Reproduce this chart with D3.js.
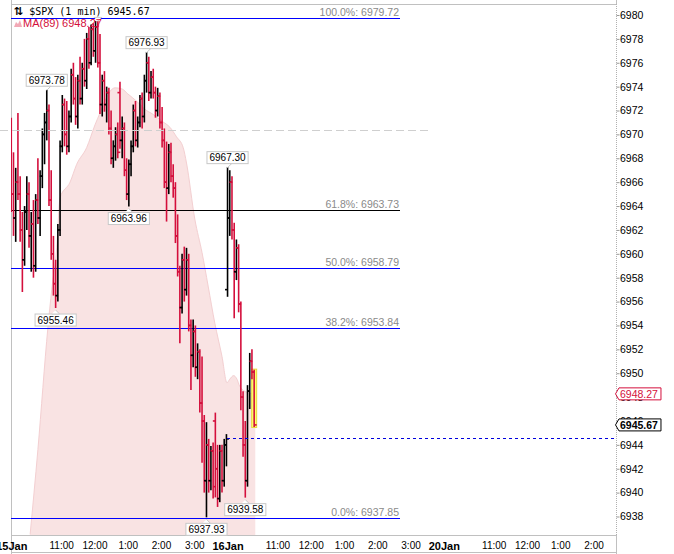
<!DOCTYPE html>
<html><head><meta charset="utf-8">
<script src="https://cdn.jsdelivr.net/npm/d3@7"></script>
<style>
body{margin:0;background:#fff}
svg{display:block;font-family:"Liberation Sans",Arial,sans-serif}
</style>
</head><body>
<svg id="c" width="674" height="554"></svg>
<script>
// ---------------- DATA ----------------
const symbol = "$SPX";
const intervalLabel = "1 min";
const lastPrice = 6945.67;
const maPeriod = 89;
const maLast = 6948.27;
const barMinutes = 4;          // each drawn bar summarises 4 one-minute bars
const sessionMinutes = 390;

// [open, high, low, close]  — 15 Jan
const day1Bars = [
[6970,6971.4,6963.5,6965],[6965,6968.5,6961.5,6963],[6963,6967.2,6961,6966],[6966,6971.8,6964.5,6965],
[6965,6966.5,6961,6962],[6962,6963.5,6956.8,6959.5],[6959.5,6964,6959,6963.5],[6963.5,6966.5,6962,6965],
[6965,6966,6960.5,6961.5],[6961.5,6963.5,6958.5,6962.5],[6962.5,6964.5,6958,6959],[6959,6965,6958.5,6964.5],
[6964.5,6968,6962.5,6963],[6963,6967,6961.5,6966.5],[6966.5,6970.5,6965.5,6970],[6970,6971.8,6967.5,6971],
[6971,6973.78,6969.5,6972],[6972,6972.5,6964,6964.5],[6964.5,6967,6959.5,6960],[6960,6961.5,6956.5,6957.5],
[6957.5,6959.5,6955.46,6956.5],[6956.5,6962.5,6956,6962],[6962,6969.5,6961.5,6969],[6969,6973.3,6968.5,6972.5],
[6972.5,6973,6969,6970],[6970,6972.8,6968.3,6969],[6969,6972,6968.5,6971.5],[6971.5,6975.5,6971,6975],
[6975,6976,6972.5,6973],[6973,6974.8,6970.8,6971.5],[6971.5,6975,6970.5,6974.5],[6974.5,6976.5,6972.5,6973],
[6973,6976,6972.5,6975.5],[6975.5,6978,6974,6974.5],[6974.5,6978.5,6973.8,6978],[6978,6979,6975.5,6976],
[6976,6979.2,6975.8,6978.8],[6978.8,6979.3,6976.5,6977],[6977,6979.5,6976,6979],[6979,6979.72,6975.6,6976],
[6976,6978.4,6971.7,6972.5],[6972.5,6975,6971.5,6974.5],[6974.5,6975.3,6971.9,6972.5],[6972.5,6974,6971,6973.5],
[6973.5,6973.9,6970,6970.5],[6970.5,6972,6967.5,6968],[6968,6969.5,6967.2,6969],[6969,6970.6,6967.8,6970],
[6970,6971,6968,6968.5],[6973.5,6974.4,6968.8,6969.5],[6969.5,6971.5,6968,6970.5],[6970.5,6971,6966.5,6967],
[6967,6968,6964.5,6965],[6965,6967.9,6963.96,6967.5],[6967.5,6969.5,6966.5,6969],[6969,6972.5,6968.5,6972],
[6972,6972.8,6969,6969.5],[6969.5,6971.5,6968.9,6971],[6971,6973.3,6970.6,6973],[6973,6973.5,6970.5,6971.5],
[6971.5,6975,6971,6974.5],[6974.5,6976.93,6973.5,6976],[6976,6976.5,6972.8,6973.5],[6973.5,6975.3,6973,6974.8],
[6974.8,6975.5,6973,6973.5],[6973.5,6974,6971.4,6972],[6972,6973.9,6971.5,6973.2],[6973.2,6973.5,6970.5,6971],
[6971,6972.3,6968.9,6969.5],[6969.5,6970.5,6965.5,6966],[6966,6969.4,6962.7,6965.5],[6965.5,6969.2,6965,6968.5],
[6968.5,6969.3,6966,6966.5],[6966.5,6967.5,6964.7,6965.5],[6965.5,6966,6960.9,6961.5],[6961.5,6963.3,6958.1,6958.5],
[6958.5,6959,6952.5,6955.5],[6955.5,6960,6955,6959.5],[6959.5,6960.6,6956,6957],[6957,6960.5,6956.5,6959.5],
[6959.5,6960,6953.5,6954],[6954,6954.5,6948.6,6951.5],[6951.5,6954.5,6950.5,6953.5],[6953.5,6954,6949.7,6950.5],
[6950.5,6952.5,6949.5,6951.8],[6951.8,6952,6946.7,6947.5],[6947.5,6951.4,6942.5,6946],[6946,6946.5,6940,6941],
[6941,6945.9,6937.93,6944],[6944,6944.5,6940,6941],[6941,6943.9,6940.2,6943.5],[6943.5,6944.2,6939.5,6940.5],
[6946,6946.7,6939.6,6942],[6942,6944,6938.8,6939.5],[6939.5,6944,6939.2,6943.5],[6943.5,6944,6940,6941],
[6941,6944.5,6940.5,6944],[6944,6944.9,6942.2,6944.5]
];
// 16 Jan
const day2Bars = [
[6957,6967.3,6956.4,6963],[6963,6967,6961.5,6966],[6966,6966.5,6961.2,6962],[6962,6962.6,6954.6,6958.5],
[6958.5,6961.2,6957.8,6960.5],[6960.5,6960.8,6955.1,6955.8],[6955.8,6956,6946.9,6948],[6948,6948.5,6943,6944],
[6944,6946,6939.58,6941],[6941,6949,6940.5,6948.5],[6948.5,6951.7,6947,6951],[6951,6952,6949.5,6950.1],
[6950.1,6950.3,6945.5,6945.67]
];
// MA(89): [session minute, value]
const maPoints = [
[34,6936.5],[48,6943.6],[66,6953.8],[73,6957.0],[82,6960.5],[88,6964.7],[106,6966.0],[118,6967.5],
[136,6968.9],[151,6970.8],[160,6971.8],[169,6972.8],[178,6973.6],[187,6973.9],[200,6973.8],[210,6973.4],
[228,6972.7],[241,6972.1],[255,6971.7],[272,6971.1],[286,6970.6],[298,6969.8],[310,6968.9],[316,6967.6],
[331,6962.9],[344,6960.1],[355,6957.3],[367,6954.2],[380,6951.4],[389,6949.2],[394,6949.5],[401,6949.8],
[407,6949.5],[412,6948.9],[425,6948.4],[440,6948.27]
];
const fibLabels = ["100.0%","61.8%","50.0%","38.2%","0.0%"];
const fibValues = [6979.72,6963.73,6958.79,6953.84,6937.85];
const refLevel = 6970.34;      // grey dashed reference
const prevClose = 6944.52;     // blue dashed
// extremes: [day, bar index, "high"/"low"]
const extremes = [[1,39,"high"],[1,16,"high"],[1,61,"high"],[1,53,"low"],[1,20,"low"],[1,88,"low"],[2,0,"high"],[2,8,"low"]];
const yTickValues = [6938,6940,6942,6944,6946,6948,6950,6952,6954,6956,6958,6960,6962,6964,6966,6968,6970,6972,6974,6976,6978,6980];
const timeTickMinutes = [0,90,150,210,270,330,390,480,540,600,660,720,780,870,930,990,1050];
const timeTickLabels = ["15Jan","11:00","12:00","1:00","2:00","3:00","16Jan","11:00","12:00","1:00","2:00","3:00","20Jan","11:00","12:00","1:00","2:00"];

// ---------------- CHART ----------------
const RED = "#d40f3c";
const BLUE = "#0000ff";
const SANS = "'Liberation Sans',Arial,sans-serif";
const svg = d3.select("#c");
const P = {left:11, right:616, top:4, bottom:535};
const x = d3.scaleLinear().domain([-0.5, 1090.5]).range([P.left, P.right]);
const y = d3.scaleLinear().domain([6938, 6980]).range([516.5, 15.0]);
const evenRow = v => 2*Math.round(y(v)/2) + 0.5;   // pixel row for 1px horizontal lines

svg.append("defs").append("clipPath").attr("id","clip")
  .append("rect").attr("x",P.left).attr("y",P.top).attr("width",P.right-P.left).attr("height",P.bottom-P.top);

const bars = [];
day1Bars.forEach((b,i)=>bars.push({m:i*barMinutes, o:b[0], h:b[1], l:b[2], c:b[3], day:1, i}));
day2Bars.forEach((b,i)=>bars.push({m:sessionMinutes+i*barMinutes, o:b[0], h:b[1], l:b[2], c:b[3], day:2, i}));

// frame
const frame = svg.append("g").attr("fill","none").attr("stroke","#c0c0c0").attr("shape-rendering","crispEdges");
frame.append("line").attr("x1",P.left+0.5).attr("x2",P.left+0.5).attr("y1",0).attr("y2",554);
frame.append("line").attr("x1",P.left).attr("x2",P.right).attr("y1",P.top+0.5).attr("y2",P.top+0.5);
frame.append("line").attr("x1",P.right+0.5).attr("x2",P.right+0.5).attr("y1",0).attr("y2",P.top);
frame.append("line").attr("x1",P.left).attr("x2",P.right+0.5).attr("y1",P.bottom+0.5).attr("y2",P.bottom+0.5);
frame.append("line").attr("x1",P.left).attr("x2",P.right+0.5).attr("y1",552.5).attr("y2",552.5);
frame.append("line").attr("x1",P.right+0.5).attr("x2",P.right+0.5).attr("y1",P.bottom).attr("y2",554);

const g = svg.append("g").attr("clip-path","url(#clip)");

// MA area
const area = d3.area().x(d=>x(d[0])).y0(P.bottom).y1(d=>y(d[1])).curve(d3.curveMonotoneX);
g.append("path").datum(maPoints).attr("d",area).attr("fill","#f9e3e3");
g.append("path").datum(maPoints).attr("d",d3.line().x(d=>x(d[0])).y(d=>y(d[1])).curve(d3.curveMonotoneX))
  .attr("fill","none").attr("stroke","#f3cfd1").attr("stroke-width",1);

// grey dashed ref line (extends left of frame)
svg.append("line").attr("x1",0).attr("x2",430).attr("y1",evenRow(refLevel)).attr("y2",evenRow(refLevel))
  .attr("stroke","#cfcfcf").attr("stroke-dasharray","8,4").attr("shape-rendering","crispEdges");

// fib lines
fibValues.forEach((v,i)=>{
  const yy = evenRow(v);
  g.append("line").attr("x1",P.left).attr("x2",400).attr("y1",yy).attr("y2",yy)
    .attr("stroke", fibLabels[i]==="61.8%" ? "#000000" : BLUE).attr("stroke-width",1)
    .attr("shape-rendering","crispEdges");
  svg.append("text").attr("x",399).attr("y",yy-3).attr("text-anchor","end")
    .attr("font-size","10.5px").attr("fill","#8a8a8a").text(fibLabels[i]+": "+v.toFixed(2));
});

// prev close dashed
const lastDay1 = bars.filter(b=>b.day===1).slice(-1)[0];
svg.append("line").attr("x1",x(lastDay1.m)+1).attr("x2",P.right).attr("y1",evenRow(prevClose)).attr("y2",evenRow(prevClose))
  .attr("stroke","#0000dd").attr("stroke-dasharray","3,3").attr("shape-rendering","crispEdges");

// highlight last bar
const lastBar = bars[bars.length-1];
g.append("rect").attr("x",x(lastBar.m)-2.5).attr("width",5)
  .attr("y",y(lastBar.h)-0.5).attr("height",y(lastBar.l)-y(lastBar.h)+1)
  .attr("fill","#ffff70").attr("stroke","#e8d840").attr("stroke-width",1);

// OHLC bars
const bg = g.append("g").attr("stroke-width",1.6);
bars.forEach(b=>{
  const col = b.c >= b.o ? "#000" : RED;
  const xx = x(b.m);
  bg.append("line").attr("x1",xx).attr("x2",xx).attr("y1",y(b.h)).attr("y2",y(b.l)).attr("stroke",col);
  bg.append("line").attr("x1",xx-2.5).attr("x2",xx).attr("y1",y(b.o)).attr("y2",y(b.o)).attr("stroke",col);
  bg.append("line").attr("x1",xx).attr("x2",xx+2.5).attr("y1",y(b.c)).attr("y2",y(b.c)).attr("stroke",col);
});

// high / low labels
const lg = svg.append("g");
extremes.forEach(([day,idx,type])=>{
  const b = bars.find(d=>d.day===day && d.i===idx);
  const v = type==="high" ? b.h : b.l;
  const bx = x(b.m), by = y(v);
  let top, tri, hgt = 12;
  if(type==="high"){
    const tip = by+1; const base = tip-4; top = base-hgt;
    tri = [[bx-4,base],[bx+4,base],[bx,tip]];
  } else {
    const tip = by+2; const base = tip+4; top = base;
    tri = [[bx-4,base],[bx+4,base],[bx,tip]];
  }
  if(type==="high" && top < P.top + 4){
    // box hidden under the title strip: only its pointer shows
    lg.append("path").attr("d",d3.line()([[bx-4,by-1],[bx+4,by-1],[bx,by+3]])).attr("fill","#fff").attr("stroke","#c8c8c8");
    return;
  }
  const t = lg.append("text").attr("font-size","10px").attr("fill","#000").attr("text-anchor","middle").text(v.toFixed(2));
  const w = t.node().getComputedTextLength()+5;
  lg.insert("rect","text").attr("x",bx-w/2).attr("y",top).attr("width",w).attr("height",hgt)
    .attr("fill","#fff").attr("stroke","#c8c8c8");
  lg.insert("path","text").attr("d",d3.line()(tri)).attr("fill","#fff").attr("stroke","#c8c8c8");
  t.attr("x",bx).attr("y",top+9.5);
});

// right axis
const ax = svg.append("g").attr("transform",`translate(${P.right+0.5},0)`)
  .call(d3.axisRight(y).tickValues(yTickValues).tickSize(3).tickFormat(d3.format("d")));
ax.select(".domain").remove();
ax.selectAll(".tick line").attr("stroke","#999");
ax.selectAll("text").attr("font-size","10.5px").style("font-family",SANS).attr("x",3.5).attr("fill","#000");
svg.append("line").attr("x1",P.right+0.5).attr("x2",P.right+0.5).attr("y1",P.top).attr("y2",P.bottom)
  .attr("stroke","#b0b0b0").attr("stroke-dasharray","1,1");

// price markers on axis
function marker(v, txt, col, bold){
  const yy = y(v);
  const mg = svg.append("g");
  const t = mg.append("text").attr("x",P.right+4).attr("y",yy+3.8).attr("font-size","10.5px")
    .attr("font-weight",bold?"bold":"normal").attr("fill",col).text(txt);
  const w = t.node().getComputedTextLength()+4;
  mg.insert("path","text").attr("d",`M${P.right-0.5},${yy} L${P.right+3},${yy-6} L${P.right+3+w},${yy-6} L${P.right+3+w},${yy+6} L${P.right+3},${yy+6} Z`)
    .attr("fill","#fff").attr("stroke",col);
}
marker(maLast, maLast.toFixed(2), RED, false);
marker(lastPrice, lastPrice.toFixed(2), "#000", true);

// x axis labels
const xa = svg.append("g").attr("transform",`translate(0,${P.bottom})`)
  .call(d3.axisBottom(x).tickValues(timeTickMinutes).tickSize(0).tickFormat((d,i)=>timeTickLabels[i]));
xa.select(".domain").remove();
xa.selectAll("text").attr("y",7).style("font-family",SANS).attr("fill","#000")
  .attr("font-size",(d,i)=>timeTickLabels[i].includes("Jan")?"11px":"10px")
  .attr("font-weight",(d,i)=>timeTickLabels[i].includes("Jan")?"bold":"normal");

// title
svg.append("rect").attr("x",P.left+1).attr("y",P.top+1).attr("width",140).attr("height",11.5).attr("fill","#fff");
const title = svg.append("text").attr("x",14).attr("y",15).style("font-family","'DejaVu Sans Mono','Liberation Mono',monospace")
  .attr("font-size","10px").attr("fill","#000");
title.append("tspan").style("font-family","'DejaVu Sans',sans-serif").attr("font-size","11px").attr("font-weight","bold").text("\u21C5");
title.append("tspan").text(` ${symbol} (${intervalLabel}) ${lastPrice.toFixed(2)}`);
// MA legend
svg.append("path").attr("d","M14,27 L16,22 L18,24 L20,20 L22,27 Z").attr("fill","#f2a9b6");
svg.append("text").attr("x",23).attr("y",27).attr("font-size","11px").attr("fill",RED)
  .text(`MA(${maPeriod}) ${maLast.toFixed(2)}`);
</script>
</body></html>
